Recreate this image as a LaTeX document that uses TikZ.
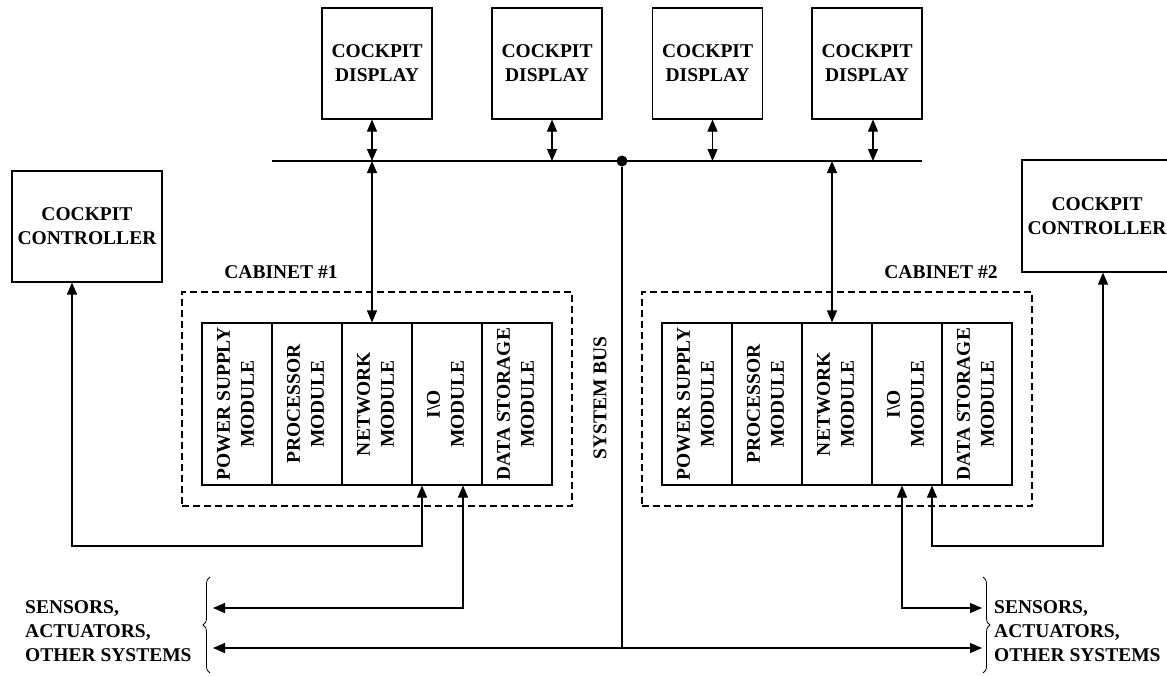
\documentclass[tikz,border=0pt]{standalone}
\usepackage{fontspec}
\usepackage{graphicx}
\setmainfont{Liberation Serif}
\usetikzlibrary{arrows.meta,calc,decorations.pathreplacing}
% vertical two-line module caption
\newcommand\modlabel[1]{\rotatebox{90}{\begin{tabular}{@{}c@{}}#1\end{tabular}}}
\begin{document}
\begin{tikzpicture}[x=1pt,y=-1pt,
  every node/.style={font=\bfseries\fontsize{19.5}{24}\selectfont, inner sep=0pt},
  box/.style={draw, line width=1.1pt, align=center},
  dispbox/.style={box, minimum width=110pt, minimum height=111pt},
  ctrlbox/.style={box, minimum width=150pt, minimum height=111pt},
  modbox/.style={box, minimum width=70pt, minimum height=162pt},
  cabbox/.style={draw, dash pattern=on 7pt off 4pt, line width=1.3pt,
                 minimum width=390pt, minimum height=214pt},
  link/.style={line width=1.1pt,
               {Triangle[length=12pt,width=10pt]}-{Triangle[length=12pt,width=10pt]}},
  wire/.style={line width=1.1pt},
  bracket/.style={line width=0.8pt, decorate, decoration={brace, amplitude=7pt}},
]
\useasboundingbox (0,0) rectangle (1167,675);
\clip (0,0) rectangle (1167,675);

% cockpit displays
\node[dispbox] (d1) at (377,63.5) {COCKPIT\\DISPLAY};
\node[dispbox] (d2) at (547,63.5) {COCKPIT\\DISPLAY};
\node[dispbox] (d3) at (707.5,63.5) {COCKPIT\\DISPLAY};
\node[dispbox] (d4) at (867,63.5) {COCKPIT\\DISPLAY};

% cockpit controllers
\node[ctrlbox] (ctrlL) at (87,226.5) {COCKPIT\\CONTROLLER};
\node[ctrlbox, minimum height=112pt] (ctrlR) at (1097,216) {COCKPIT\\CONTROLLER};

% system bus
\coordinate (busL) at (272,161);
\coordinate (busR) at (922,161);
\draw[line width=1.2pt] (busL) -- (busR);
\node[circle, fill, minimum size=11pt] (dot) at (622,161) {};
\node[rotate=90] (sysbus) at (600,398) {SYSTEM BUS};

% cabinets
\node[cabbox] (cab1) at (377,399) {};
\node[cabbox] (cab2) at (837,399) {};
\node (cab1lbl) at (281,272) {CABINET \#1};
\node (cab2lbl) at (941,272) {CABINET \#2};

% cabinet #1 modules
\node[modbox] (c1ps)  at (237,404) {\modlabel{POWER SUPPLY\\MODULE}};
\node[modbox] (c1pr)  at (307,404) {\modlabel{PROCESSOR\\MODULE}};
\node[modbox] (c1net) at (377,404) {\modlabel{NETWORK\\MODULE}};
\node[modbox] (c1io)  at (447,404) {\modlabel{I\textbackslash O\\MODULE}};
\node[modbox] (c1ds)  at (517,404) {\modlabel{DATA STORAGE\\MODULE}};

% cabinet #2 modules
\node[modbox] (c2ps)  at (697,404) {\modlabel{POWER SUPPLY\\MODULE}};
\node[modbox] (c2pr)  at (767,404) {\modlabel{PROCESSOR\\MODULE}};
\node[modbox] (c2net) at (837,404) {\modlabel{NETWORK\\MODULE}};
\node[modbox] (c2io)  at (907,404) {\modlabel{I\textbackslash O\\MODULE}};
\node[modbox] (c2ds)  at (977,404) {\modlabel{DATA STORAGE\\MODULE}};

% external systems
\node[anchor=west, align=left] (sensL) at (25,631) {SENSORS,\\ACTUATORS,\\OTHER SYSTEMS};
\node[anchor=west, align=left] (sensR) at (994,631) {SENSORS,\\ACTUATORS,\\OTHER SYSTEMS};
\draw[bracket] (210,673) -- (210,577);
\draw[bracket] (983,577) -- (983,673);

% connection points
\coordinate (t1) at ($(c1net.north)+(-5,0)$);
\coordinate (t2) at ($(c2net.north)+(-5,0)$);
\coordinate (p2) at ($(d2.south)+(5,0)$);
\coordinate (p3) at ($(d3.south)+(5,0)$);
\coordinate (p4) at ($(d4.south)+(6,0)$);
\coordinate (cl) at ($(ctrlL.south)+(-15,0)$);
\coordinate (cr) at ($(ctrlR.south)+(6,0)$);
\coordinate (io1a) at ($(c1io.south)+(-25,0)$);
\coordinate (io1b) at ($(c1io.south)+(16,0)$);
\coordinate (io2a) at ($(c2io.south)+(-5,0)$);
\coordinate (io2b) at ($(c2io.south)+(25,0)$);
\coordinate (rowA) at (0,546);
\coordinate (sLa) at (213,608);
\coordinate (sLb) at (213,648);
\coordinate (sRa) at (982,608);
\coordinate (sRb) at (982,648);

% displays to bus
\draw[link] (t1 |- d1.south) -- (t1 |- busL);
\draw[link] (p2) -- (p2 |- busL);
\draw[link] (p3) -- (p3 |- busL);
\draw[link] (p4) -- (p4 |- busL);

% bus to network modules
\draw[link] (t1 |- busL) -- (t1);
\draw[link] (t2 |- busL) -- (t2);

% controllers to I/O modules
\draw[link] (cl) -- (cl |- rowA) -- (io1a |- rowA) -- (io1a);
\draw[link] (cr) -- (cr |- rowA) -- (io2b |- rowA) -- (io2b);

% I/O modules to external systems
\draw[link] (io1b) |- (sLa);
\draw[link] (io2a) |- (sRa);

% system bus to external systems
\draw[link] (sLb) -- (sRb);
\draw[wire] (dot) -- (dot |- sLb);
\end{tikzpicture}
\end{document}
